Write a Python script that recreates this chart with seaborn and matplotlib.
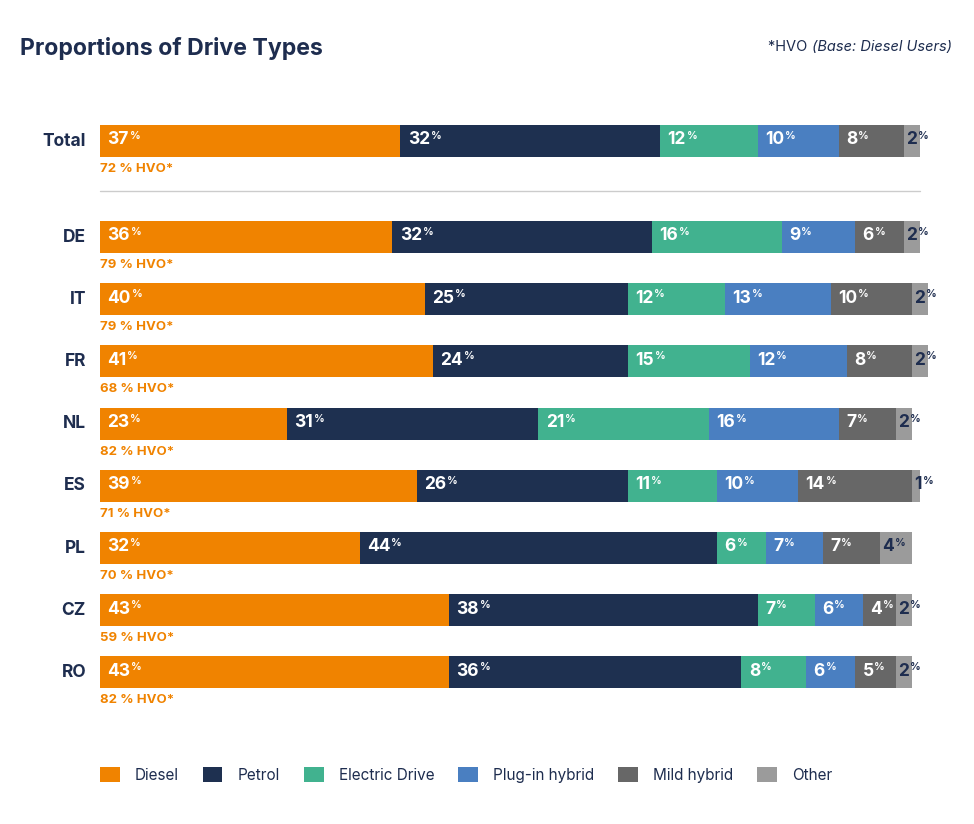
import numpy as np
import pandas as pd
import matplotlib
matplotlib.use("Agg")
import matplotlib.pyplot as plt
import seaborn as sns
from matplotlib.patches import Patch

# ------------------------------------------------------------
# DATA
# ------------------------------------------------------------

regions = ["Total", "DE", "IT", "FR", "NL", "ES", "PL", "CZ", "RO"]

diesel = [37, 36, 40, 41, 23, 39, 32, 43, 43]
petrol = [32, 32, 25, 24, 31, 26, 44, 38, 36]
electric = [12, 16, 12, 15, 21, 11, 6, 7, 8]
plugin = [10, 9, 13, 12, 16, 10, 7, 6, 6]
mild = [8, 6, 10, 8, 7, 14, 7, 4, 5]
other = [2, 2, 2, 2, 2, 1, 4, 2, 2]

hvo_share = [72, 79, 79, 68, 82, 71, 70, 59, 82]

drive_types = ["Diesel", "Petrol", "Electric Drive", "Plug-in hybrid", "Mild hybrid", "Other"]

# ------------------------------------------------------------
# STYLE
# ------------------------------------------------------------

sns.set_theme(style="white")
plt.rcParams["font.family"] = ["Inter", "DejaVu Sans"]

NAVY = "#1E2D4F"
ORANGE = "#F08300"
colors = ["#F08300", "#1E3050", "#41B28F", "#4A7FC1", "#676767", "#9B9B9B"]
label_colors = ["white", "white", "white", "white", "white", NAVY]

# ------------------------------------------------------------
# LAYOUT
# ------------------------------------------------------------

W, H = 974, 824
fig = plt.figure(figsize=(W / 100, H / 100), dpi=100)

px_per_unit_x = 8.12
row_px = 62.2
ax_left = 100
ax_top = 110
ax = fig.add_axes([
    ax_left / W,
    1 - (ax_top + 10 * row_px) / H,
    105 * px_per_unit_x / W,
    10 * row_px / H,
])

# y positions: Total on top, then a gap, then the countries
y_pos = [0.0] + [1.543 + i for i in range(len(regions) - 1)]

values = np.array([diesel, petrol, electric, plugin, mild, other], dtype=float)
cum = np.cumsum(values, axis=0)

# stacked bars: draw cumulative totals from the back layer to the front layer
for k in range(len(drive_types) - 1, -1, -1):
    layer = pd.DataFrame({"y": y_pos, "x": cum[k]})
    sns.barplot(
        data=layer,
        x="x",
        y="y",
        orient="y",
        native_scale=True,
        width=0.514,
        color=colors[k],
        saturation=1,
        linewidth=0,
        errorbar=None,
        ax=ax,
    )

ax.set_xlim(0, 105)
ax.set_ylim(9.5, -0.5)
ax.axis("off")

# ------------------------------------------------------------
# LABELS
# ------------------------------------------------------------

for i, region in enumerate(regions):
    y = y_pos[i]

    ax.text(-1.72, y, region, ha="right", va="center",
            fontsize=12.5, fontweight="bold", color=NAVY)

    ax.text(0, y + 0.45, f"{hvo_share[i]} % HVO*", ha="left", va="center",
            fontsize=9.5, fontweight="bold", color=ORANGE)

    starts = np.concatenate([[0], cum[:-1, i]])
    for k in range(len(drive_types)):
        x0 = starts[k] + (0.9 if k < 5 else 0.3)
        t = ax.text(x0, y - 0.02, f"{int(values[k, i])}", ha="left", va="center",
                    fontsize=12.5, fontweight="bold", color=label_colors[k])
        ax.annotate("%", xy=(1, 1), xycoords=t, xytext=(0.6, 0.3),
                    textcoords="offset points", ha="left", va="top",
                    fontsize=7.5, fontweight="bold", color=label_colors[k])

# separator between Total and the countries
sep_y = 1 - 191 / H
fig.add_artist(plt.Line2D([100 / W, 920 / W], [sep_y, sep_y],
                          color="#CCCCCC", linewidth=1))

# title and note
fig.text(20 / W, 1 - 48 / H, "Proportions of Drive Types", ha="left", va="center",
         fontsize=16.6, fontweight="bold", color=NAVY)
note = fig.text(952 / W, 1 - 47 / H, "(Base: Diesel Users)", ha="right", va="center",
                fontsize=10.5, fontstyle="italic", color=NAVY)
ax.annotate("*HVO ", xy=(0, 0.5), xycoords=note, ha="right", va="center",
            fontsize=10.5, color=NAVY, annotation_clip=False)

# legend
handles = [Patch(facecolor=c, edgecolor="none") for c in colors]
fig.legend(
    handles,
    drive_types,
    loc="center left",
    bbox_to_anchor=(86 / W, 1 - 775 / H),
    ncol=6,
    frameon=False,
    fontsize=11,
    labelcolor=NAVY,
    handlelength=1.3,
    handleheight=1.05,
    handletextpad=1.0,
    columnspacing=1.55,
)

fig.savefig("out.png", dpi=100)
